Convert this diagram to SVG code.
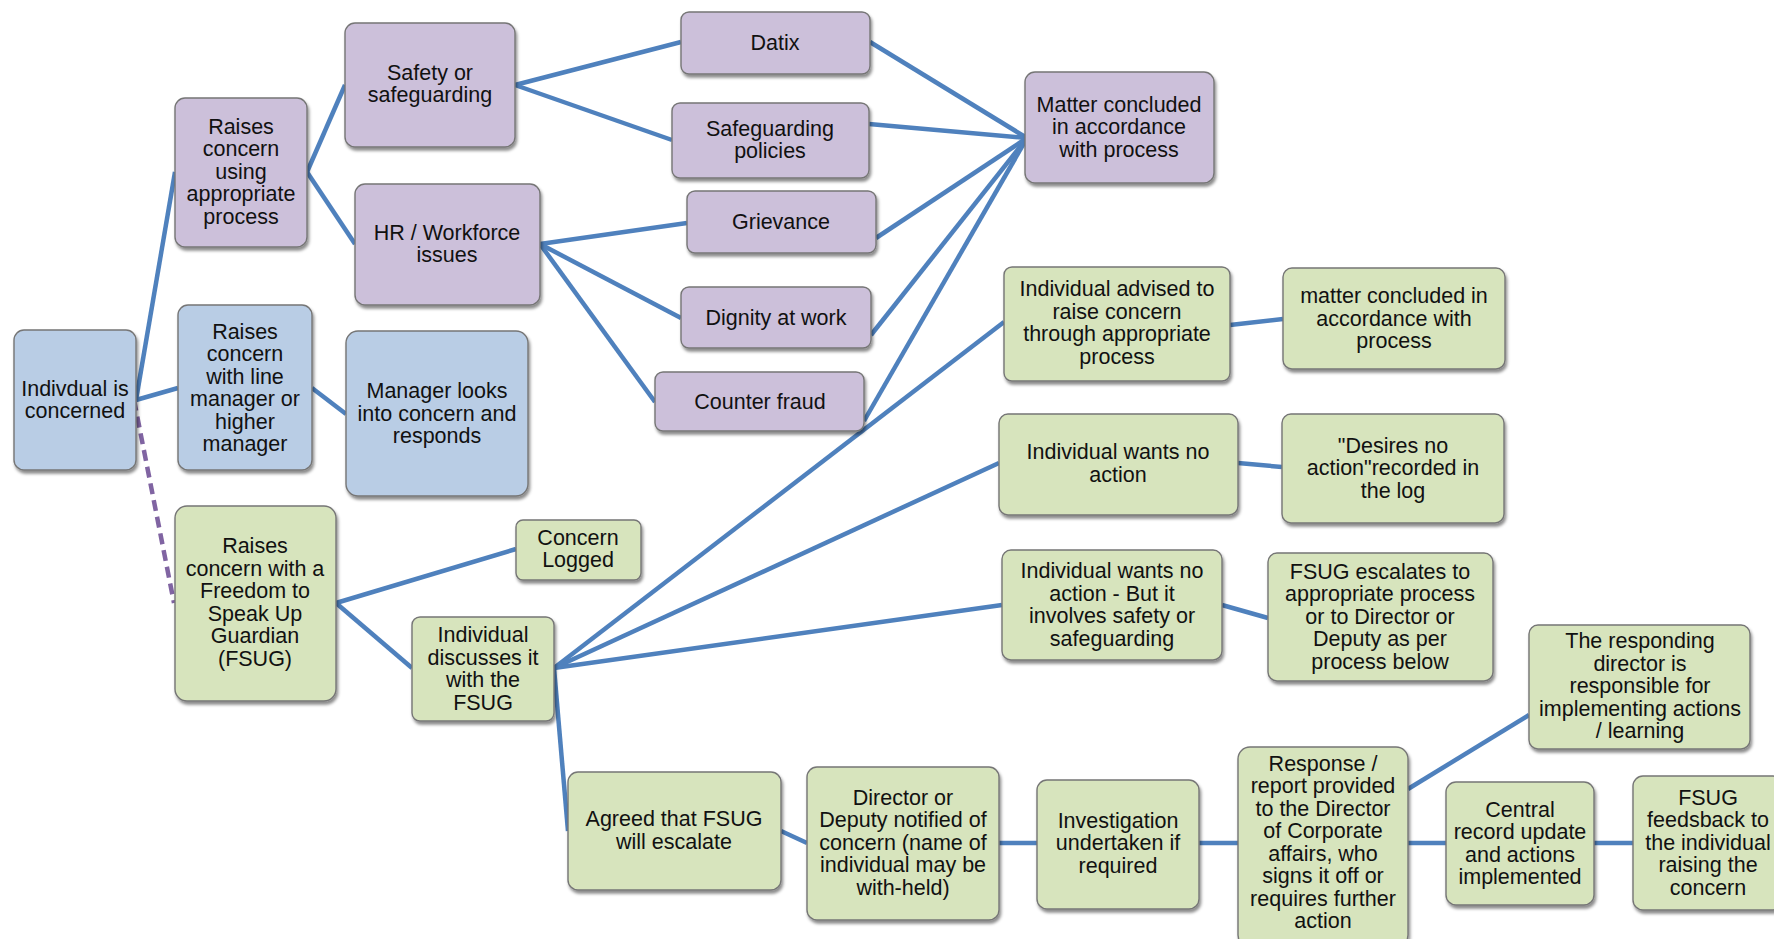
<svg xmlns="http://www.w3.org/2000/svg" width="1774" height="939" viewBox="0 0 1774 939">
<defs>
<filter id="sh" x="-10%" y="-10%" width="125%" height="130%">
<feDropShadow dx="1.5" dy="3" stdDeviation="1.5" flood-color="#000" flood-opacity="0.45"/>
</filter>
</defs>
<style>
.n rect{stroke:#767676;stroke-width:1.4;filter:url(#sh)}
.p rect{fill:#CCC0DA}
.b rect{fill:#B9CDE5}
.g rect{fill:#D7E4BD}
text{font-family:"Liberation Sans",Arial,sans-serif;font-size:21.5px;fill:#111;text-anchor:middle}
.c line{stroke:#4F81BD;stroke-width:4.5;stroke-linecap:butt}
.c line.d{stroke:#8064A2;stroke-dasharray:11 6}
</style>
<rect width="1774" height="939" fill="#fff"/>
<g class="c" id="connectors">
<line x1="136" y1="400" x2="175" y2="172"/>
<line x1="136" y1="400" x2="178" y2="388"/>
<line class="d" x1="134" y1="400" x2="174" y2="603"/>
<line x1="307" y1="172" x2="345" y2="85"/>
<line x1="307" y1="172" x2="355" y2="244"/>
<line x1="515" y1="85" x2="681" y2="42"/>
<line x1="515" y1="85" x2="672" y2="140"/>
<line x1="540" y1="244" x2="687" y2="223"/>
<line x1="540" y1="244" x2="681" y2="318"/>
<line x1="540" y1="244" x2="655" y2="402"/>
<line x1="870" y1="42" x2="1027" y2="138"/>
<line x1="869" y1="124" x2="1027" y2="138"/>
<line x1="876" y1="238" x2="1027" y2="138"/>
<line x1="871" y1="335" x2="1027" y2="138"/>
<line x1="864" y1="421" x2="1027" y2="138"/>
<line x1="312" y1="388" x2="346" y2="414"/>
<line x1="336" y1="603" x2="516" y2="549"/>
<line x1="336" y1="603" x2="412" y2="668"/>
<line x1="554" y1="668" x2="1004" y2="322"/>
<line x1="554" y1="668" x2="999" y2="463"/>
<line x1="554" y1="668" x2="1002" y2="605"/>
<line x1="554" y1="668" x2="568" y2="831"/>
<line x1="1230" y1="325" x2="1283" y2="319"/>
<line x1="1238" y1="463" x2="1282" y2="467"/>
<line x1="1222" y1="605" x2="1268" y2="618"/>
<line x1="781" y1="831" x2="807" y2="843"/>
<line x1="999" y1="843" x2="1037" y2="843"/>
<line x1="1199" y1="843" x2="1238" y2="843"/>
<line x1="1408" y1="789" x2="1529" y2="715"/>
<line x1="1408" y1="843" x2="1446" y2="843"/>
<line x1="1594" y1="843" x2="1633" y2="843"/>
</g>

<g id="n-individual" class="n b"><rect x="14" y="330" width="122" height="140" rx="10"/>
<text x="75" y="396">Indivdual is</text><text x="75" y="418">concerned</text></g>

<g id="n-raise-process" class="n p"><rect x="175" y="98" width="132" height="149" rx="10"/>
<text x="241" y="134">Raises</text><text x="241" y="156">concern</text><text x="241" y="179">using</text><text x="241" y="201">appropriate</text><text x="241" y="224">process</text></g>

<g id="n-safety" class="n p"><rect x="345" y="23" width="170" height="124" rx="10"/>
<text x="430" y="80">Safety or</text><text x="430" y="102">safeguarding</text></g>

<g id="n-hr" class="n p"><rect x="355" y="184" width="185" height="121" rx="10"/>
<text x="447" y="240">HR / Workforce</text><text x="447" y="262">issues</text></g>

<g id="n-datix" class="n p"><rect x="681" y="12" width="189" height="62" rx="8"/>
<text x="775" y="50">Datix</text></g>

<g id="n-safepol" class="n p"><rect x="672" y="103" width="197" height="75" rx="8"/>
<text x="770" y="136">Safeguarding</text><text x="770" y="158">policies</text></g>

<g id="n-grievance" class="n p"><rect x="687" y="191" width="189" height="62" rx="8"/>
<text x="781" y="229">Grievance</text></g>

<g id="n-dignity" class="n p"><rect x="681" y="287" width="190" height="61" rx="8"/>
<text x="776" y="325">Dignity at work</text></g>

<g id="n-fraud" class="n p"><rect x="655" y="372" width="209" height="59" rx="8"/>
<text x="760" y="409">Counter fraud</text></g>

<g id="n-matter" class="n p"><rect x="1025" y="72" width="189" height="111" rx="10"/>
<text x="1119" y="112">Matter concluded</text><text x="1119" y="134">in accordance</text><text x="1119" y="157">with process</text></g>

<g id="n-linemgr" class="n b"><rect x="178" y="305" width="134" height="165" rx="10"/>
<text x="245" y="339">Raises</text><text x="245" y="361">concern</text><text x="245" y="384">with line</text><text x="245" y="406">manager or</text><text x="245" y="429">higher</text><text x="245" y="451">manager</text></g>

<g id="n-mgrlooks" class="n b"><rect x="346" y="331" width="182" height="165" rx="12"/>
<text x="437" y="398">Manager looks</text><text x="437" y="421">into concern and</text><text x="437" y="443">responds</text></g>

<g id="n-fsug" class="n g"><rect x="175" y="506" width="161" height="195" rx="12"/>
<text x="255" y="553">Raises</text><text x="255" y="576">concern with a</text><text x="255" y="598">Freedom to</text><text x="255" y="621">Speak Up</text><text x="255" y="643">Guardian</text><text x="255" y="666">(FSUG)</text></g>

<g id="n-logged" class="n g"><rect x="516" y="520" width="125" height="60" rx="7"/>
<text x="578" y="545">Concern</text><text x="578" y="567">Logged</text></g>

<g id="n-discuss" class="n g"><rect x="412" y="617" width="142" height="104" rx="8"/>
<text x="483" y="642">Individual</text><text x="483" y="665">discusses it</text><text x="483" y="687">with the</text><text x="483" y="710">FSUG</text></g>

<g id="n-advised" class="n g"><rect x="1004" y="267" width="226" height="114" rx="8"/>
<text x="1117" y="296">Individual advised to</text><text x="1117" y="319">raise concern</text><text x="1117" y="341">through appropriate</text><text x="1117" y="364">process</text></g>

<g id="n-concluded2" class="n g"><rect x="1283" y="268" width="222" height="101" rx="9"/>
<text x="1394" y="303">matter concluded in</text><text x="1394" y="326">accordance with</text><text x="1394" y="348">process</text></g>

<g id="n-noaction" class="n g"><rect x="999" y="414" width="239" height="101" rx="9"/>
<text x="1118" y="459">Individual wants no</text><text x="1118" y="482">action</text></g>

<g id="n-desires" class="n g"><rect x="1282" y="414" width="222" height="109" rx="9"/>
<text x="1393" y="453">"Desires no</text><text x="1393" y="475">action"recorded in</text><text x="1393" y="498">the log</text></g>

<g id="n-noaction-safety" class="n g"><rect x="1002" y="550" width="220" height="110" rx="9"/>
<text x="1112" y="578">Individual wants no</text><text x="1112" y="601">action - But it</text><text x="1112" y="623">involves safety or</text><text x="1112" y="646">safeguarding</text></g>

<g id="n-escalates" class="n g"><rect x="1268" y="553" width="225" height="128" rx="9"/>
<text x="1380" y="579">FSUG escalates to</text><text x="1380" y="601">appropriate process</text><text x="1380" y="624">or to Director or</text><text x="1380" y="646">Deputy as per</text><text x="1380" y="669">process below</text></g>

<g id="n-responsible" class="n g"><rect x="1529" y="625" width="221" height="124" rx="9"/>
<text x="1640" y="648">The responding</text><text x="1640" y="671">director is</text><text x="1640" y="693">responsible for</text><text x="1640" y="716">implementing actions</text><text x="1640" y="738">/ learning</text></g>

<g id="n-agreed" class="n g"><rect x="568" y="772" width="213" height="118" rx="10"/>
<text x="674" y="826">Agreed that FSUG</text><text x="674" y="849">will escalate</text></g>

<g id="n-director" class="n g"><rect x="807" y="767" width="192" height="153" rx="10"/>
<text x="903" y="805">Director or</text><text x="903" y="827">Deputy notified of</text><text x="903" y="850">concern (name of</text><text x="903" y="872">individual may be</text><text x="903" y="895">with-held)</text></g>

<g id="n-investigation" class="n g"><rect x="1037" y="780" width="162" height="129" rx="10"/>
<text x="1118" y="828">Investigation</text><text x="1118" y="850">undertaken if</text><text x="1118" y="873">required</text></g>

<g id="n-response" class="n g"><rect x="1238" y="747" width="170" height="200" rx="12"/>
<text x="1323" y="771">Response /</text><text x="1323" y="793">report provided</text><text x="1323" y="816">to the Director</text><text x="1323" y="838">of Corporate</text><text x="1323" y="861">affairs, who</text><text x="1323" y="883">signs it off or</text><text x="1323" y="906">requires further</text><text x="1323" y="928">action</text></g>

<g id="n-central" class="n g"><rect x="1446" y="782" width="148" height="123" rx="10"/>
<text x="1520" y="817">Central</text><text x="1520" y="839">record update</text><text x="1520" y="862">and actions</text><text x="1520" y="884">implemented</text></g>

<g id="n-feedback" class="n g"><rect x="1633" y="776" width="150" height="134" rx="10"/>
<text x="1708" y="805">FSUG</text><text x="1708" y="827">feedsback to</text><text x="1708" y="850">the individual</text><text x="1708" y="872">raising the</text><text x="1708" y="895">concern</text></g>
</svg>
